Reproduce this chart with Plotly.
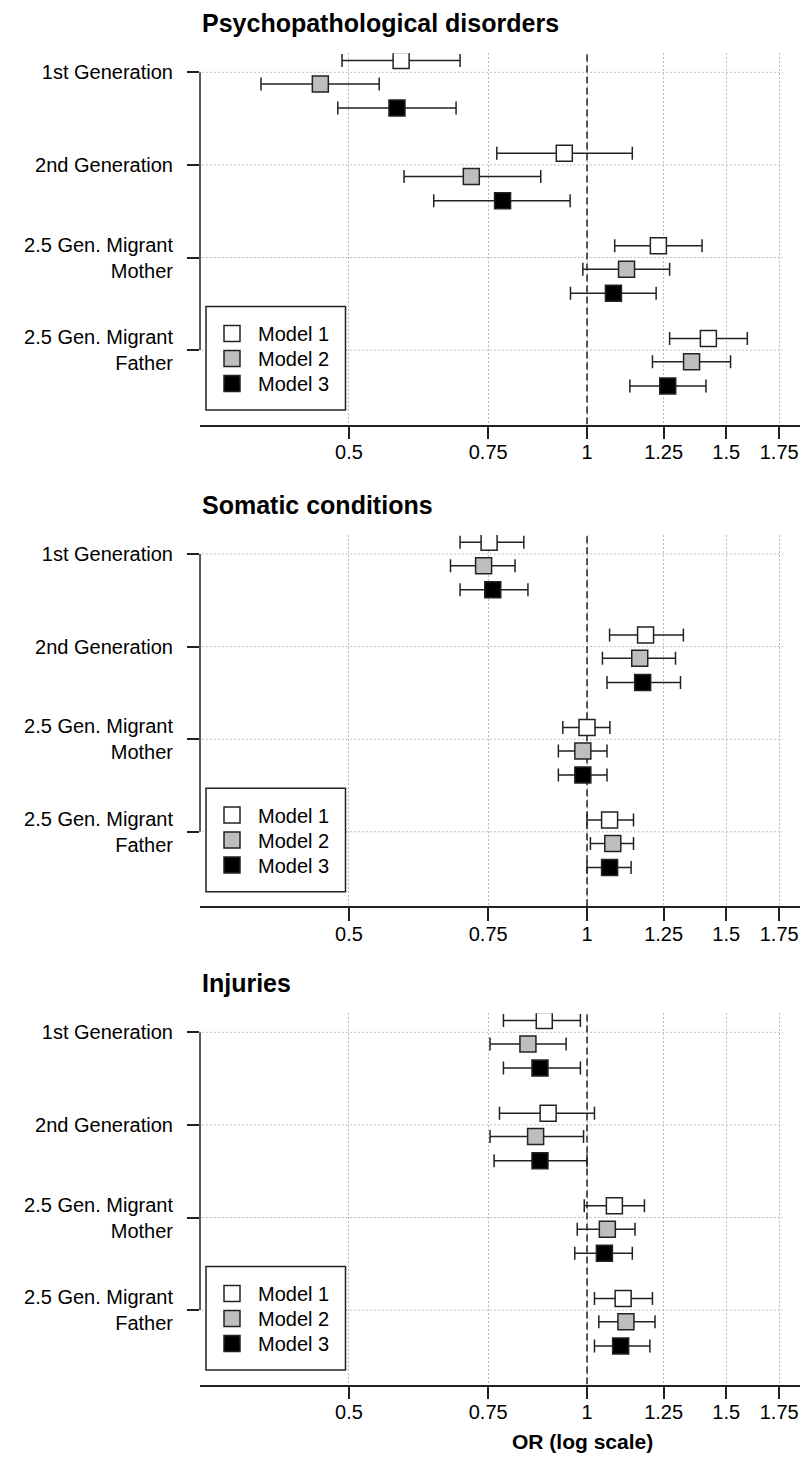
import math
import plotly.graph_objects as go

# ---------------- data ----------------
categories = ["1st Generation", "2nd Generation",
              "2.5 Gen. Migrant<br>Mother", "2.5 Gen. Migrant<br>Father"]
panel_titles = ["Psychopathological disorders", "Somatic conditions", "Injuries"]
models = ["Model 1", "Model 2", "Model 3"]
tick_vals = [0.5, 0.75, 1, 1.25, 1.5, 1.75]
tick_text = ["0.5", "0.75", "1", "1.25", "1.5", "1.75"]
x_label = "OR (log scale)"

# Psychopathological disorders
psy_m1_or = [0.582, 0.936, 1.231, 1.424]
psy_m1_lo = [0.490, 0.769, 1.084, 1.272]
psy_m1_hi = [0.691, 1.141, 1.398, 1.595]
psy_m2_or = [0.460, 0.714, 1.122, 1.356]
psy_m2_lo = [0.387, 0.587, 0.988, 1.210]
psy_m2_hi = [0.546, 0.874, 1.272, 1.519]
psy_m3_or = [0.575, 0.782, 1.080, 1.265]
psy_m3_lo = [0.484, 0.640, 0.953, 1.133]
psy_m3_hi = [0.683, 0.952, 1.223, 1.414]

# Somatic conditions
som_m1_or = [0.752, 1.186, 1.000, 1.068]
som_m1_lo = [0.691, 1.068, 0.932, 1.000]
som_m1_hi = [0.832, 1.324, 1.069, 1.145]
som_m2_or = [0.740, 1.166, 0.988, 1.078]
som_m2_lo = [0.672, 1.046, 0.920, 1.010]
som_m2_hi = [0.811, 1.294, 1.060, 1.145]
som_m3_or = [0.760, 1.176, 0.988, 1.068]
som_m3_lo = [0.691, 1.060, 0.920, 1.000]
som_m3_hi = [0.842, 1.313, 1.060, 1.137]

# Injuries
inj_m1_or = [0.883, 0.893, 1.083, 1.111]
inj_m1_lo = [0.784, 0.775, 0.992, 1.022]
inj_m1_hi = [0.981, 1.022, 1.182, 1.210]
inj_m2_or = [0.842, 0.861, 1.061, 1.120]
inj_m2_lo = [0.754, 0.754, 0.972, 1.035]
inj_m2_hi = [0.941, 0.990, 1.150, 1.219]
inj_m3_or = [0.872, 0.872, 1.052, 1.103]
inj_m3_lo = [0.784, 0.763, 0.965, 1.022]
inj_m3_hi = [0.981, 1.000, 1.141, 1.201]

panels = [
    [(psy_m1_or, psy_m1_lo, psy_m1_hi), (psy_m2_or, psy_m2_lo, psy_m2_hi), (psy_m3_or, psy_m3_lo, psy_m3_hi)],
    [(som_m1_or, som_m1_lo, som_m1_hi), (som_m2_or, som_m2_lo, som_m2_hi), (som_m3_or, som_m3_lo, som_m3_hi)],
    [(inj_m1_or, inj_m1_lo, inj_m1_hi), (inj_m2_or, inj_m2_lo, inj_m2_hi), (inj_m3_or, inj_m3_lo, inj_m3_hi)],
]

# ---------------- styling / layout ----------------
W, H = 802, 1463
FONT = "Arial, Liberation Sans, sans-serif"
INK = "#222222"
GRID = "#bdbdbd"
fills = ["white", "#bebebe", "black"]

PLOT_L, PLOT_R = 200, 800
GRID_END = 783
STEP = 92.6                      # px between groups
G1 = [72.3, 554.0, 1032.3]        # px of first group per panel
TOP_PAD, BOT_PAD = 19.0, 74.5
offsets = [-11.7 / STEP, 11.7 / STEP, 35.8 / STEP]
LEG_ITEM_DY = [-16.7, 8.3, 33.3]  # legend item centres relative to last group (px)

x_range = [(PLOT_L - 587) / 343.4 / math.log(10), (PLOT_R - 587) / 343.4 / math.log(10)]
y_range = [3 + BOT_PAD / STEP, -TOP_PAD / STEP]
n_groups = len(categories)

fig = go.Figure()
shapes, annotations = [], []
layout_extra = {}

for p in range(3):
    sfx = "" if p == 0 else str(p + 1)
    xa, ya = "x" + sfx, "y" + sfx
    g1 = G1[p]
    g4 = g1 + 3 * STEP
    top_px = g1 - TOP_PAD
    bot_px = g4 + BOT_PAD
    dom = [1 - bot_px / H, 1 - top_px / H]

    # reference line at OR = 1
    fig.add_trace(go.Scatter(x=[1, 1], y=y_range, mode="lines", xaxis=xa, yaxis=ya,
                             line=dict(color=INK, width=1.5, dash="7px,4px"),
                             showlegend=False, hoverinfo="skip"))

    for m in range(3):
        orv, lo, hi = panels[p][m]
        ys = [g + offsets[m] for g in range(n_groups)]
        k = p * 3 + m
        leg_name = "legend" if k == 0 else "legend" + str(k + 1)
        fig.add_trace(go.Scatter(
            x=orv, y=ys, mode="markers", name=models[m], xaxis=xa, yaxis=ya,
            legend=leg_name, showlegend=True,
            marker=dict(symbol="square", size=16, color=fills[m],
                        line=dict(color=INK, width=1.5)),
            error_x=dict(type="data", symmetric=False,
                         array=[h - o for h, o in zip(hi, orv)],
                         arrayminus=[o - l for o, l in zip(orv, lo)],
                         color=INK, thickness=1.5, width=6.5),
        ))
        layout_extra[leg_name] = dict(
            x=206 / W, y=1 - (g4 + LEG_ITEM_DY[m] - 19.5) / H, xanchor="left", yanchor="top",
            bgcolor="rgba(0,0,0,0)", borderwidth=0, itemwidth=42,
            font=dict(size=20, family=FONT, color="black"))

    layout_extra["xaxis" + sfx] = dict(
        type="log", range=x_range, domain=[PLOT_L / W, PLOT_R / W], anchor=ya,
        tickvals=tick_vals, ticktext=tick_text, ticks="outside", ticklen=13,
        tickwidth=1.5, tickcolor=INK, showline=True, linewidth=1.5, linecolor=INK,
        showgrid=True, gridcolor=GRID, gridwidth=1, griddash="2px,2px",
        zeroline=False, ticklabelstandoff=-4,
        tickfont=dict(size=20, family=FONT, color="black"), fixedrange=True)
    layout_extra["yaxis" + sfx] = dict(
        range=y_range, domain=dom, anchor=xa,
        tickvals=list(range(n_groups)), ticktext=categories,
        ticks="outside", ticklen=12, tickwidth=1.5, tickcolor=INK,
        showline=False, showgrid=False, zeroline=False, ticklabelstandoff=10,
        tickfont=dict(size=20, family=FONT, color="black"), fixedrange=True)

    # horizontal dotted grid lines at group positions
    for g in range(n_groups):
        shapes.append(dict(type="line", xref=xa + " domain", yref=ya,
                           x0=0.003, x1=(GRID_END - PLOT_L) / (PLOT_R - PLOT_L), y0=g, y1=g,
                           line=dict(color=GRID, width=1, dash="2px,2px"), layer="below"))
    # y bracket line
    shapes.append(dict(type="line", xref=xa + " domain", yref=ya, x0=0, x1=0,
                       y0=0, y1=n_groups - 1, line=dict(color=INK, width=1.5)))

    # legend box
    box_top, box_bot = g4 - 43.5, g4 + 60
    shapes.append(dict(type="rect", xref="paper", yref="paper",
                       x0=206 / W, x1=345.5 / W, y0=1 - box_bot / H, y1=1 - box_top / H,
                       line=dict(color=INK, width=1.5), fillcolor="white", layer="below"))

    # panel title
    annotations.append(dict(text="<b>" + panel_titles[p] + "</b>", xref="paper", yref="paper",
                            x=PLOT_L / W, y=1 - (g1 - 49.5) / H, xanchor="left", yanchor="middle",
                            showarrow=False, font=dict(size=25, family=FONT, color="black")))

annotations.append(dict(text="<b>" + x_label + "</b>", xref="paper", yref="paper",
                        x=582 / W, y=1 - 1441 / H, xanchor="center", yanchor="middle",
                        showarrow=False, font=dict(size=21, family=FONT, color="black")))

fig.update_layout(
    width=W, height=H, margin=dict(l=0, r=0, t=0, b=0),
    paper_bgcolor="white", plot_bgcolor="white",
    shapes=shapes, annotations=annotations, font=dict(family=FONT, color="black"),
    **layout_extra)

fig.write_html("out.html", config={"displayModeBar": False, "staticPlot": False},
               post_script="document.body.style.margin='0';document.body.style.overflow='hidden';")
